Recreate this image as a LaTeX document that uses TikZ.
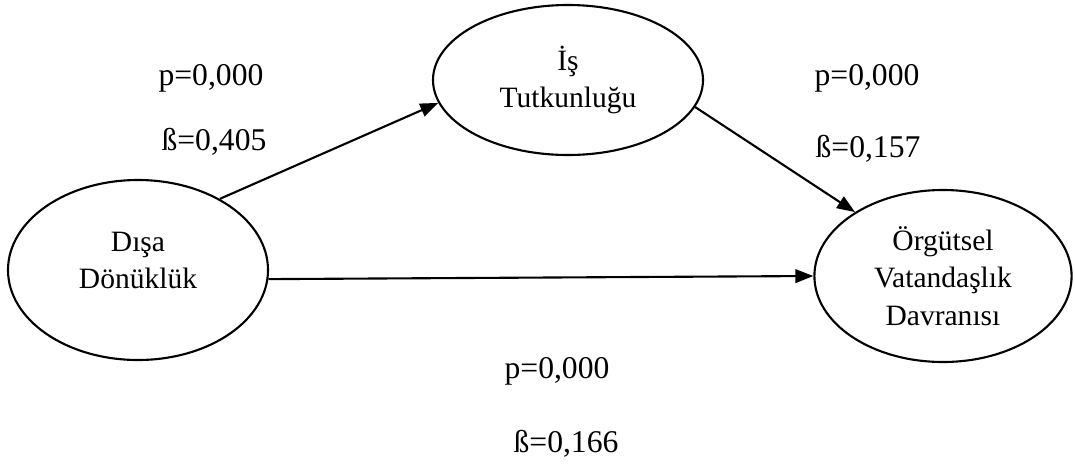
\documentclass[tikz,border=0pt]{standalone}
\usepackage{fontspec}
\setmainfont{Liberation Serif}
\usepackage{tikz}
\usetikzlibrary{shapes.geometric, arrows.meta, positioning}

\begin{document}
\begin{tikzpicture}[
        font = \fontsize{21}{26.5}\selectfont,
        construct/.style = {draw, ellipse, align=center, inner sep=0pt, line width=1.5pt},
        coef/.style = {anchor=base, inner sep=0pt, font=\fontsize{22.5}{27}\selectfont},
        arrow/.style = {draw=black, -{Triangle[length=0.45cm, width=0.34cm]}, line width=1.5pt}
    ]

        \useasboundingbox (0,0) rectangle (26.875,-11.625);

        % Constructs
        \node (dd) [construct, minimum width=6.5cm, minimum height=4.5cm] at (3.45,-6.75) {Dışa\\Dönüklük\\[-0.45cm]};
        \node (it) [construct, minimum width=6.75cm, minimum height=3.75cm] at (14.2,-2.0) {İş\\Tutkunluğu};
        \node (ovd) [construct, minimum width=6.43cm, minimum height=4.3cm] at (23.575,-6.9) {Örgütsel\\Vatandaşlık\\Davranısı};

        % Coefficients
        \node (p_dd_it) [coef] at (5.275,-2.125) {p=0,000};
        \node (b_dd_it) [coef] at (5.35,-3.75) {ß=0,405};
        \node (p_it_ovd) [coef] at (21.675,-2.125) {p=0,000};
        \node (b_it_ovd) [coef] at (21.7,-3.925) {ß=0,157};
        \node (p_dd_ovd) [coef] at (13.925,-9.45) {p=0,000};
        \node (b_dd_ovd) [coef] at (14.15,-11.3) {ß=0,166};

        % Arrows
        \draw [arrow] (dd.41) -- (it.190);
        \draw [arrow] (it.348) -- (ovd.144);
        \draw [arrow] (dd.356) -- (ovd.180);

    \end{tikzpicture}
\end{document}
